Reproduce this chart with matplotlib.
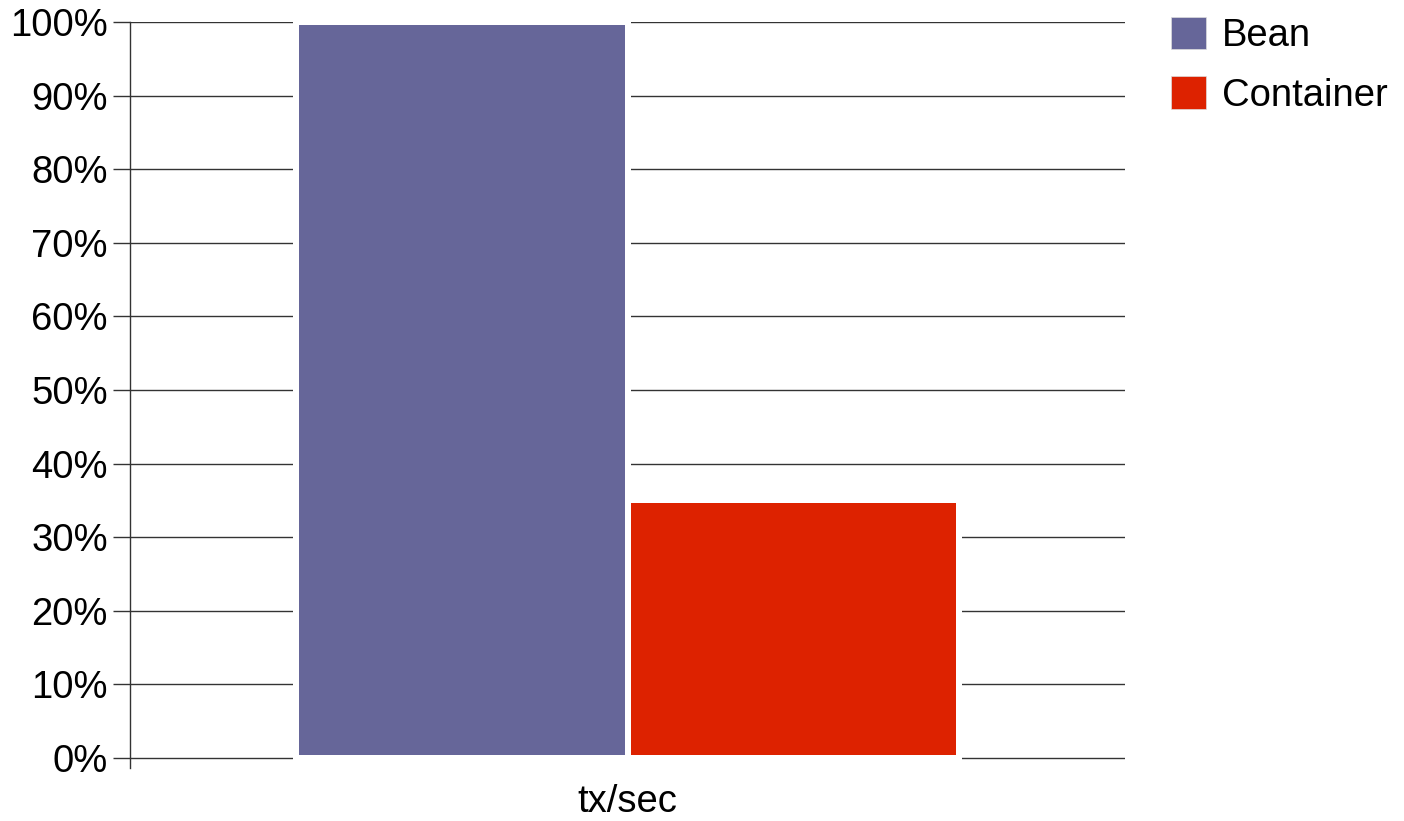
import matplotlib
matplotlib.use("Agg")
import matplotlib.pyplot as plt
from matplotlib.ticker import FuncFormatter

plt.rcParams['font.family'] = ['Liberation Sans', 'DejaVu Sans']

# data
category = "tx/sec"
series = ["Bean", "Container"]
values = [100, 35]
colors = ["#666699", "#DD2200"]
yticks = [0, 10, 20, 30, 40, 50, 60, 70, 80, 90, 100]

W, H, DPI = 1404, 821, 100
FS = 27.5
fig = plt.figure(figsize=(W / DPI, H / DPI), dpi=DPI)
ax = fig.add_axes([130 / W, 1 - 768 / H, (1125 - 130) / W, (768 - 22) / H])

bar_w = 0.5
offsets = [-0.25, 0.25]
edge_px = 6
for name, v, c, off in zip(series, values, colors, offsets):
    ax.bar(off, v, width=bar_w, color=c, edgecolor="white",
           linewidth=edge_px * 72 / DPI, label=name, zorder=3)

ax.set_xlim(-0.75, 0.75)
ax.set_ylim(-1.36, 100)
ax.set_yticks(yticks)
ax.yaxis.set_major_formatter(FuncFormatter(lambda v, p: f"{int(round(v))}%"))
ax.grid(axis="y", color="#333333", linewidth=1.0, zorder=1)
ax.set_axisbelow(True)
ax.tick_params(axis="y", length=12, width=1, color="#333333",
               labelsize=FS, pad=4, labelcolor="black")
ax.set_xticks([])
for s in ["top", "right", "bottom"]:
    ax.spines[s].set_visible(False)
ax.spines["left"].set_color("#333333")
ax.spines["left"].set_linewidth(1)

fig.text(627 / W, 1 - 802 / H, category, ha="center", va="center", fontsize=FS)

leg = fig.legend(loc="upper left", bbox_to_anchor=(1171 / W, 1 - 17 / H),
                 frameon=False, fontsize=FS, borderpad=0, borderaxespad=0,
                 handlelength=0.92, handleheight=0.92, handletextpad=0.42,
                 labelspacing=0.58)
for p in leg.get_patches():
    p.set_linewidth(0.5)
    p.set_edgecolor("#dddddd")

fig.savefig("out.png", dpi=DPI)
